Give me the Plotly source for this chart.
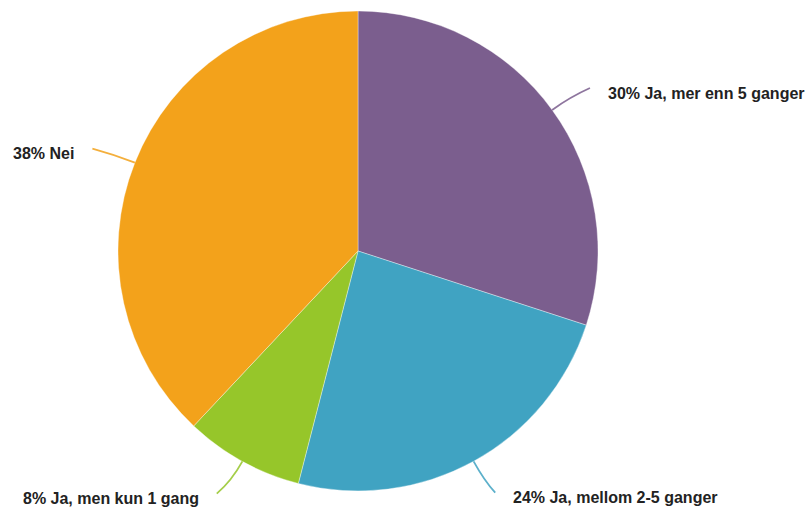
import math
import plotly.graph_objects as go

# Survey answers (share of respondents, %)
labels = ["Ja, mer enn 5 ganger", "Ja, mellom 2-5 ganger", "Ja, men kun 1 gang", "Nei"]
values = [30, 24, 8, 38]
colors = ["#7B5E8E", "#40A3C2", "#96C62A", "#F3A21B"]

W, H = 811, 514
CX, CY, R = 358, 251, 240

fig = go.Figure(go.Pie(
    labels=labels,
    values=values,
    sort=False,
    direction="clockwise",
    rotation=0,
    textinfo="none",
    hoverinfo="label+percent",
    marker=dict(colors=colors, line=dict(color="rgba(255,255,255,0.6)", width=0.6)),
    domain=dict(x=[(CX - R) / W, (CX + R) / W],
                y=[(H - CY - R) / H, (H - CY + R) / H]),
    showlegend=False,
))

# label placement: (end of leader line offset from elbow, text side)
placement = [
    dict(end=(20, -9), side="left"),
    dict(end=(11, 12), side="left"),
    dict(end=(-15, 13), side="right"),
    dict(end=(-22, -6), side="right"),
]


def px(x, y):
    return x / W, 1 - y / H


total = sum(values)
cum = 0
shapes, annotations = [], []
for lab, val, col, pl in zip(labels, values, colors, placement):
    mid = (cum + val / 2) / total * 2 * math.pi
    cum += val
    sx, sy = CX + R * math.sin(mid), CY - R * math.cos(mid)
    kx, ky = CX + (R + 22) * math.sin(mid), CY - (R + 22) * math.cos(mid)
    ex, ey = kx + pl["end"][0], ky + pl["end"][1]
    p0, p1, p2 = px(sx, sy), px(kx, ky), px(ex, ey)
    shapes.append(dict(
        type="path", xref="paper", yref="paper",
        path=f"M {p0[0]},{p0[1]} Q {p1[0]},{p1[1]} {p2[0]},{p2[1]}",
        line=dict(color=col, width=1.8),
        opacity=0.85,
    ))
    gap = 16
    if pl["side"] == "left":
        tx, anchor = ex + gap, "left"
    else:
        tx, anchor = ex - gap, "right"
    tp = px(tx, ey + 5)
    annotations.append(dict(
        x=tp[0], y=tp[1], xref="paper", yref="paper",
        text=f"<b>{val}% {lab}</b>", showarrow=False,
        xanchor=anchor, yanchor="middle",
        font=dict(family="Liberation Sans, Arial, sans-serif", size=16, color="#222222"),
    ))

fig.update_layout(
    width=W, height=H,
    margin=dict(l=0, r=0, t=0, b=0),
    paper_bgcolor="white",
    plot_bgcolor="white",
    shapes=shapes,
    annotations=annotations,
)

fig.write_html("out.html")
